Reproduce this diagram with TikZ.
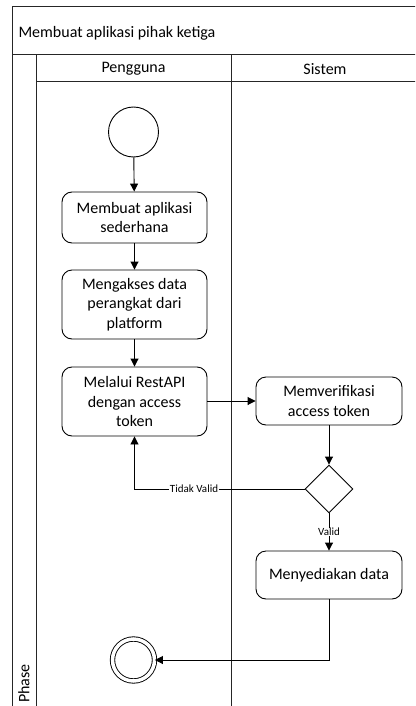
\documentclass[tikz,border=0pt]{standalone}
\usepackage{fontspec}
\setmainfont{Carlito}
\usetikzlibrary{arrows.meta,shapes.geometric}
\begin{document}
\begin{tikzpicture}[x=1pt,y=-1pt,
  lane/.style={line width=1pt,draw=black!85},
  activity/.style={draw,line width=0.9pt,rounded corners=10pt,align=center,
    minimum width=145pt,inner sep=0pt,font=\fontsize{16}{19.5}\selectfont},
  decision/.style={draw,line width=0.9pt,diamond,minimum width=48pt,minimum height=48pt,inner sep=0pt},
  startstate/.style={draw,line width=0.9pt,circle,minimum size=50pt,inner sep=0pt},
  endstate/.style={draw,line width=0.9pt,circle,double,double distance=3.5pt,minimum size=42pt,inner sep=0pt},
  flow/.style={line width=0.9pt,-{Triangle[length=8pt,width=8pt]}},
  guard/.style={font=\fontsize{11}{12}\selectfont,fill=white,inner sep=0.5pt},
  heading/.style={font=\fontsize{16}{19.5}\selectfont}]
\useasboundingbox (0,0) rectangle (415,706);
\clip (0,0) rectangle (415,706);
\fill[white] (0,0) rectangle (415,706);

% pool and swimlanes
\draw[lane] (12,725) -- (12,6.5) -- (419,6.5) -- (419,725);
\draw[lane] (12,55) -- (419,55);
\draw[lane] (36,82) -- (419,82);
\draw[lane] (36,55) -- (36,725);
\draw[lane] (231,55) -- (231,725);
\node[heading,anchor=west] (title) at (15,33) {Membuat aplikasi pihak ketiga};
\node[heading] (laneA) at (133.5,69) {Pengguna};
\node[heading] (laneB) at (325,69) {Sistem};
\node[heading,rotate=90,anchor=west] (phase) at (24,706.5) {Phase};

% activities
\node[startstate] (start) at (133.5,132) {};
\node[activity,minimum height=51pt] (a1) at (134.5,217.5) {Membuat aplikasi\\sederhana};
\node[activity,minimum height=69pt] (a2) at (134.5,304.5) {Mengakses data\\perangkat dari\\platform};
\node[activity,minimum height=69pt] (a3) at (134.5,401.5) {Melalui RestAPI\\dengan access\\token};
\node[activity,minimum width=146pt,minimum height=48pt] (verify) at (329,401) {Memverifikasi\\access token};
\node[decision] (check) at (329,489) {};
\node[activity,minimum width=146pt,minimum height=48pt] (provide) at (329,575) {Menyediakan data};
\node[endstate] (finish) at (133.5,660) {};

% control flow
\draw[flow] (start) -- (a1);
\draw[flow] (a1) -- (a2);
\draw[flow] (a2) -- (a3);
\draw[flow] (a3.east |- verify.west) -- (verify.west);
\draw[flow] (verify) -- (check);
\draw[flow] (check.west) -| node[guard,pos=0.325] {Tidak Valid} (a3.south);
\draw[flow] (check.south) -- node[guard] {Valid} (provide.north);
\draw[flow] (provide.south) |- (finish.east);
\end{tikzpicture}
\end{document}
